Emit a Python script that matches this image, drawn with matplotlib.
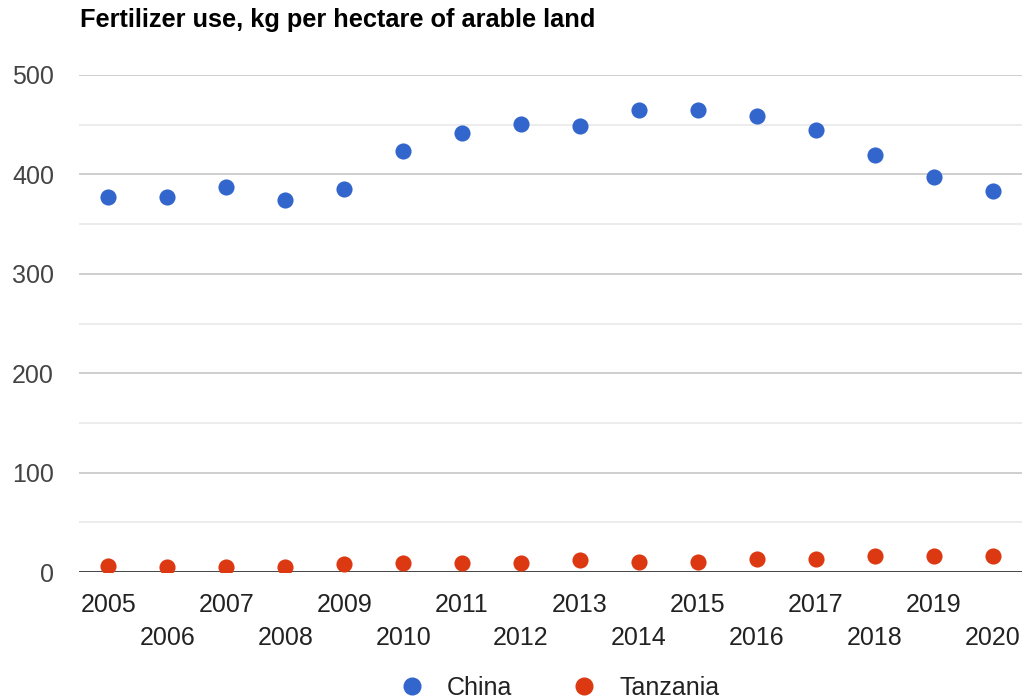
import matplotlib.pyplot as plt
from matplotlib.lines import Line2D

plt.rcParams['font.family'] = ['Liberation Sans', 'DejaVu Sans']

# fertilizer use, kg per hectare of arable land
years = list(range(2005, 2021))
china = [377, 377, 387, 374, 385, 424, 442, 451, 449, 465, 465, 459, 445, 420, 397, 383]
tanzania = [6, 5, 5, 5, 8, 9, 9, 9, 12, 10, 10, 13, 13, 16, 16, 16]

blue = '#3366cc'
red = '#dc3912'

fig = plt.figure(figsize=(10.23, 7.0), dpi=100)
ax = fig.add_axes([79 / 1023, (700 - 572) / 700, 943 / 1023, (572 - 75) / 700])

# light minor grid every 50, darker major grid every 100
for v in range(50, 500, 100):
    ax.axhline(v, color='#ebebeb', lw=1.3, zorder=0)
for v in range(100, 501, 100):
    ax.axhline(v, color='#cccccc', lw=1.3, zorder=0)
ax.axhline(0, color='#333333', lw=2, zorder=1)

ax.scatter(years, china, s=135, color=blue, zorder=3, linewidths=0)
ax.scatter(years, tanzania, s=135, color=red, zorder=3, linewidths=0)

ax.set_xlim(2004.5, 2020.5)
ax.set_ylim(0, 500)
ax.set_yticks(range(0, 501, 100))
ax.set_xticks(years)
ax.set_xticklabels([str(y) for y in years])
for sp in ax.spines.values():
    sp.set_visible(False)
ax.tick_params(length=0, labelsize=18, labelcolor='#222222')
ax.tick_params(axis='y', pad=18, labelcolor='#444444')
ax.tick_params(axis='x', pad=15)
# stagger the year labels on two rows
for i, t in enumerate(ax.xaxis.get_major_ticks()):
    if i % 2 == 1:
        t.set_pad(39)

fig.text(80 / 1023, 1 - 20 / 700, 'Fertilizer use, kg per hectare of arable land',
         fontsize=18.3, fontweight='bold', color='#000000', va='center', ha='left')

handles = [Line2D([], [], marker='o', ls='', color=blue, ms=12, label='China'),
           Line2D([], [], marker='o', ls='', color=red, ms=12, label='Tanzania')]
fig.legend(handles=handles, loc='center', bbox_to_anchor=(558 / 1023, 1 - 688 / 700),
           ncol=2, frameon=False, fontsize=18, handletextpad=0.8, columnspacing=2.3,
           handlelength=1.2, labelcolor='#222222')

fig.savefig('out.png', dpi=100)
